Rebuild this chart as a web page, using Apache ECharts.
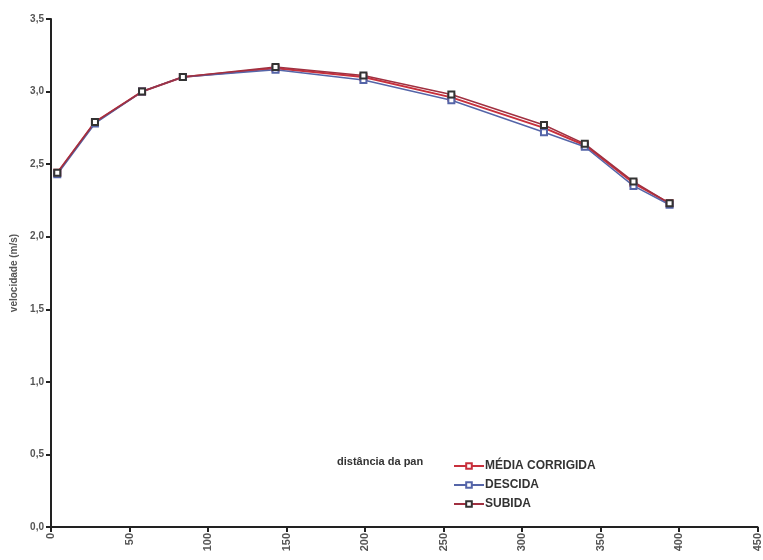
<!DOCTYPE html>
<html>
<head>
<meta charset="utf-8">
<script src="https://cdn.jsdelivr.net/npm/echarts@6/dist/echarts.min.js"></script>
<style>
  html, body { margin: 0; padding: 0; background: #fff; }
  #main { width: 763px; height: 560px; }
</style>
</head>
<body>
<div id="main"></div>
<script>
var distancia = [4, 28, 58, 84, 143, 199, 255, 314, 340, 371, 394];
var mediaCorrigida = [2.44, 2.79, 3.00, 3.10, 3.16, 3.10, 2.96, 2.75, 2.63, 2.37, 2.23];
var descida = [2.43, 2.78, 3.00, 3.10, 3.15, 3.08, 2.94, 2.72, 2.62, 2.35, 2.22];
var subida = [2.44, 2.79, 3.00, 3.10, 3.17, 3.11, 2.98, 2.77, 2.64, 2.38, 2.23];

function pares(ys) {
  return distancia.map(function (x, i) { return [x, ys[i]]; });
}

var myChart = echarts.init(document.getElementById('main'));

var option = {
  backgroundColor: '#fff',
  animation: false,
  textStyle: { fontFamily: 'Liberation Sans, Arial, sans-serif' },
  grid: { left: 51, right: 2, top: 19, bottom: 33 },
  graphic: [{
    type: 'text',
    left: 337,
    top: 456,
    style: { text: 'distância da pan', fill: '#333', fontSize: 11, fontWeight: 'bold', fontFamily: 'Liberation Sans, Arial, sans-serif' }
  }],
  legend: {
    orient: 'vertical',
    left: 448,
    top: 455,
    itemWidth: 30,
    itemHeight: 7,
    itemGap: 7,
    textStyle: { color: '#333', fontSize: 12, fontWeight: 'bold', padding: [0, 0, 0, -4] },
    data: ['MÉDIA CORRIGIDA', 'DESCIDA', 'SUBIDA']
  },
  xAxis: {
    type: 'value',
    min: 0,
    max: 450,
    interval: 50,
    splitLine: { show: false },
    axisLine: { onZero: false, lineStyle: { color: '#222', width: 2 } },
    axisTick: { show: true, length: 5, lineStyle: { color: '#222', width: 2 } },
    axisLabel: { rotate: 90, color: '#555', fontSize: 11, fontWeight: 'bold', margin: 6 }
  },
  yAxis: {
    type: 'value',
    name: 'velocidade (m/s)',
    nameLocation: 'middle',
    nameGap: 27,
    nameTextStyle: { color: '#555', fontSize: 10, fontWeight: 'bold' },
    min: 0,
    max: 3.5,
    interval: 0.5,
    splitLine: { show: false },
    axisLine: { show: true, lineStyle: { color: '#222', width: 2 } },
    axisTick: { show: true, length: 5, lineStyle: { color: '#222', width: 2 } },
    axisLabel: {
      color: '#555',
      fontSize: 10,
      fontWeight: 'bold',
      margin: 7,
      formatter: function (v) { return v.toFixed(1).replace('.', ','); }
    }
  },
  series: [
    {
      name: 'MÉDIA CORRIGIDA',
      type: 'line',
      data: pares(mediaCorrigida),
      symbol: 'emptyRect',
      symbolSize: 6,
      lineStyle: { color: '#c8303c', width: 2 },
      itemStyle: { color: '#c8303c', borderColor: '#333', borderWidth: 1.5 }
    },
    {
      name: 'DESCIDA',
      type: 'line',
      data: pares(descida),
      symbol: 'emptyRect',
      symbolSize: 6,
      lineStyle: { color: '#5565a8', width: 1.5 },
      itemStyle: { color: '#5565a8', borderColor: '#334', borderWidth: 1.5 }
    },
    {
      name: 'SUBIDA',
      type: 'line',
      data: pares(subida),
      symbol: 'emptyRect',
      symbolSize: 6,
      lineStyle: { color: '#a03040', width: 1.5 },
      itemStyle: { color: '#333', borderColor: '#333', borderWidth: 1.5 }
    }
  ]
};

myChart.setOption(option);
</script>
</body>
</html>
